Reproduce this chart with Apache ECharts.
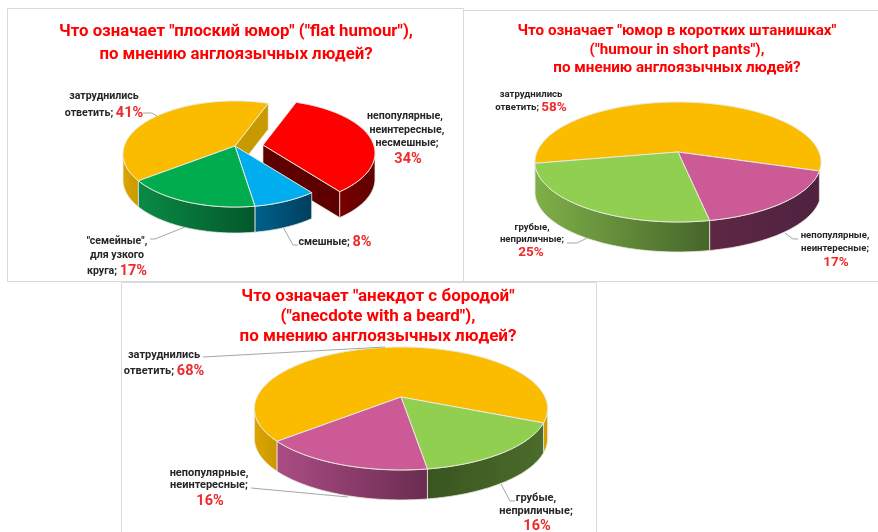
<!DOCTYPE html>
<html><head><meta charset="utf-8">
<style>html,body{margin:0;padding:0;background:#fff}#c{width:878px;height:532px}</style>
<script src="https://cdn.jsdelivr.net/npm/echarts@6/dist/echarts.min.js"></script>
</head><body><div id="c"></div>
<script>
// ---- data ----
const titleFlat = 'Что означает "плоский юмор" ("flat humour"),\nпо мнению англоязычных людей?';
const namesFlat = ['затруднились ответить', 'непопулярные, неинтересные, несмешные', 'смешные', '"семейные", для узкого круга'];
const valuesFlat = [41, 34, 8, 17];

const titleShort = 'Что означает "юмор в коротких штанишках"\n("humour in short pants"),\nпо мнению англоязычных людей?';
const namesShort = ['затруднились ответить', 'непопулярные, неинтересные', 'грубые, неприличные'];
const valuesShort = [58, 17, 25];

const titleBeard = 'Что означает "анекдот с бородой"\n("anecdote with a beard"),\nпо мнению англоязычных людей?';
const namesBeard = ['затруднились ответить', 'грубые, неприличные', 'непопулярные, неинтересные'];
const valuesBeard = [68, 16, 16];

// ---- presentation ----
const YEL = {top:'#FBBC00', wall:['#dca600','#c99700'], cut:'#c99a00'};
const RED = {top:'#FF0000', wall:['#7a0000','#5e0000'], cut:'#5e0000'};
const BLU = {top:'#00AEEF', wall:['#00618c','#003f5e'], cut:'#003f5e'};
const GRN = {top:'#00AC4E', wall:['#0a8a45','#04572b'], cut:'#04572b'};
const LGR = {top:'#90CF50', wall:['#7fb048','#46652a'], cut:'#46652a'};
const PNK = {top:'#CC5A96', wall:['#5e2744','#4f2240'], cut:'#4f2240'};
const PNK3 = {top:'#CC5A96', wall:['#ab4c84','#6a2c50'], cut:'#6a2c50'};
const DGR = {top:'#90CF50', wall:['#3a5520','#4b6c2a'], cut:'#3a5520'};

const charts = [
  {title:titleFlat, names:namesFlat, values:valuesFlat, start:232.4, colors:[YEL,RED,BLU,GRN], explode:{1:[28,-1]},
   geo:{cx:235, cy:146, r:110.7, s:51.8, k:0.151, depth:26}, titleX:231, titleY:15, titleLH:23, titleSize:16.8},
  {title:titleShort, names:namesShort, values:valuesShort, start:-100.8, colors:[YEL,PNK,LGR], explode:{},
   geo:{cx:678, cy:152, r:141, s:58.3, k:0.1667, depth:30}, titleX:672, titleY:17, titleLH:18.5, titleSize:15.2},
  {title:titleBeard, names:namesBeard, values:valuesBeard, start:-131, colors:[YEL,DGR,PNK3], explode:{},
   geo:{cx:401, cy:397, r:144, s:59.3, k:0.187, depth:30}, titleX:373, titleY:282, titleLH:20, titleSize:17}
];

const frames = [[7,8,456,273],[463,10,420,271],[121,282,475,260]];

// label lines: [x, y, text, text size, percentage size] — {p|..} is the red percentage
const labels = [
  [104,96,'затруднились',10.6,14.5],[104,113,'ответить; {p|41%}',10.6,14.5],
  [405,116,'непопулярные,',10.6,14.5],[407,130,'неинтересные,',10.6,14.5],[407,143,'несмешные;',10.6,14.5],[408,159,'{p|34%}',10.6,14.5],
  [335,242,'смешные; {p|8%}',10.6,14.5],
  [117,241,'"семейные",',10.6,14.5],[117,255,'для узкого',10.6,14.5],[117,271,'круга; {p|17%}',10.6,14.5],
  [531,95,'затруднились',9.6,13.5],[531,108,'ответить; {p|58%}',9.6,13.5],
  [532,228,'грубые,',9.6,13.5],[532,240,'неприличные;',9.6,13.5],[531,253,'{p|25%}',9.6,13.5],
  [835,236,'непопулярные,',9.6,13.5],[835,249,'неинтересные;',9.6,13.5],[836,263,'{p|17%}',9.6,13.5],
  [164,355,'затруднились',11,14.5],[164,371,'ответить; {p|68%}',11,14.5],
  [209,473,'непопулярные,',11,14.5],[209,485,'неинтересные;',11,14.5],[210,501,'{p|16%}',11,14.5],
  [536,498,'грубые,',11,14.5],[536,511,'неприличные;',11,14.5],[537,526,'{p|16%}',11,14.5]
];
const leaders = [
  [[143,113],[152,113],[157,116]],
  [[283,227],[293,245],[298,245]],
  [[185,227],[155,239],[150,239]],
  [[587,238],[577,243],[567,243]],
  [[785,233],[793,239],[798,239]],
  [[203,357],[385,347]],
  [[251,488],[348,497]],
  [[501,484],[510,501],[515,501]]
];

const FONT = 'Roboto,"Noto Sans",sans-serif';
const EDGE = '#e9e9df';
const rad = d => d*Math.PI/180;

function rim(g,t,o){
  const X=Math.sin(rad(t)), Y=-Math.cos(rad(t)), w=1-g.k*Y;
  return [g.cx+o[0]+g.r*X/w, g.cy+o[1]+g.s*Y/w];
}
function angleSteps(a,b){
  const out=[];
  for(let t=a;t<b;t+=1) out.push(t);
  out.push(b);
  return out;
}
function makeRender(ch){
  const total = ch.values.reduce((x,y)=>x+y,0);
  return function(params, api){
    const i = params.dataIndex, g = ch.geo, col = ch.colors[i];
    const before = ch.values.slice(0,i).reduce((x,y)=>x+y,0);
    const a = ch.start + before/total*360;
    const b = a + api.value(0)/total*360;
    const o = ch.explode[i] || [0,0];
    const apex = [g.cx+o[0], g.cy+o[1]];
    const down = p => [p[0],p[1]+g.depth];
    const kids = [];
    // radial cut faces (only those turned towards the viewer)
    if (Math.sin(rad(a))<0) kids.push(quad([apex,rim(g,a,o),down(rim(g,a,o)),down(apex)],col.cut,1));
    if (Math.sin(rad(b))>0) kids.push(quad([apex,rim(g,b,o),down(rim(g,b,o)),down(apex)],col.cut,1));
    // outer wall: each front-facing run of the rim
    const runs=[]; let run=null;
    angleSteps(a,b).forEach(t=>{
      if(rim(g,t+0.5,o)[0] < rim(g,t-0.5,o)[0]){
        if(!run){run=[];runs.push(run);}
        run.push(rim(g,t,o));
      } else run=null;
    });
    runs.filter(r=>r.length>1 && Math.abs(r[0][0]-r[r.length-1][0])>=2).forEach(upper=>{
      kids.push({type:'polygon', z2:2, shape:{points:upper.concat(upper.map(down).reverse())},
        style:{fill:{type:'linear',x:0,y:0,x2:1,y2:0,colorStops:
          [{offset:0,color:col.wall[0]},{offset:1,color:col.wall[1]}]},
          stroke:EDGE,lineWidth:0.8}});
    });
    // top face
    const pts=[apex].concat(angleSteps(a,b).map(t=>rim(g,t,o)));
    kids.push({type:'polygon',z2:3,shape:{points:pts},style:{fill:col.top,stroke:EDGE,lineWidth:1,lineJoin:'round'}});
    return {type:'group',children:kids};
  };
}
function quad(points,fill,z2){return {type:'polygon',z2,shape:{points},style:{fill,stroke:EDGE,lineWidth:0.6}};}

const option = {
  animation:false,
  backgroundColor:'#fff',
  title: charts.map(c=>({
    text:c.title, left:c.titleX, top:c.titleY, textAlign:'center',
    textStyle:{color:'#FF0000',fontFamily:FONT,fontWeight:'bold',fontSize:c.titleSize,lineHeight:c.titleLH}
  })),
  graphic:{elements:[
    ...frames.map(f=>({type:'rect',silent:true,z:-1,shape:{x:f[0]+.5,y:f[1]+.5,width:f[2],height:f[3]},
      style:{fill:'#fff',stroke:'#d9d9d9',lineWidth:1}})),
    ...leaders.map(l=>({type:'polyline',silent:true,z:5,shape:{points:l},style:{stroke:'#a6a6a6',lineWidth:1,fill:null}})),
    ...labels.map(l=>({type:'text',silent:true,z:6,x:l[0],y:l[1],style:{
      text:l[2],align:'center',verticalAlign:'middle',fill:'#262626',
      font:'bold '+l[3]+'px '+FONT,
      rich:{p:{fill:'#ee2a2a',font:'bold '+l[4]+'px '+FONT}}
    }}))
  ]},
  series: charts.map(c=>({
    type:'custom', coordinateSystem:'none', clip:false, silent:true,
    renderItem:makeRender(c),
    data:c.values.map((v,i)=>({name:c.names[i],value:[v]}))
  }))
};
const chart = echarts.init(document.getElementById('c'),null,{renderer:'canvas'});
chart.setOption(option);
</script>
</body></html>
